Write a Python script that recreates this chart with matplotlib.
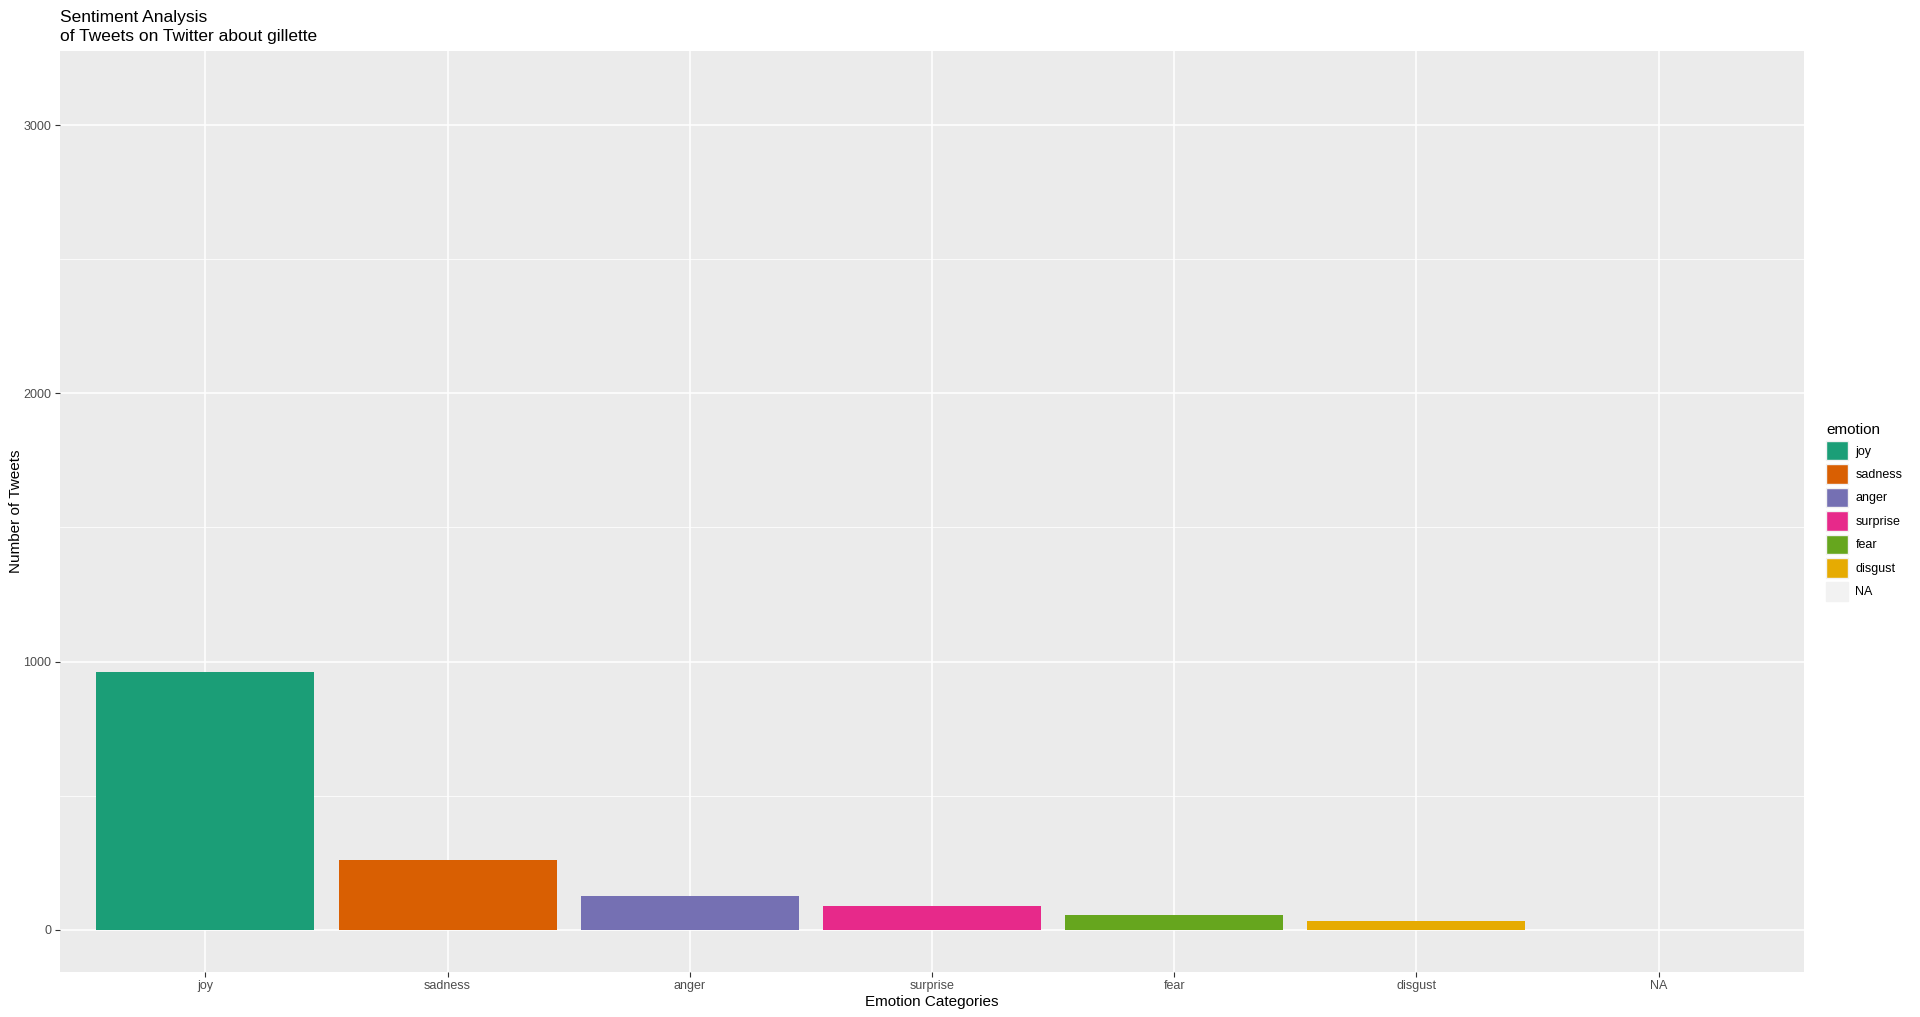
import matplotlib
matplotlib.use("Agg")
import matplotlib.pyplot as plt
from matplotlib.patches import Patch
from matplotlib.ticker import MultipleLocator

plt.rcParams['font.family'] = ['Liberation Sans', 'DejaVu Sans']

categories = ["joy", "sadness", "anger", "surprise", "fear", "disgust", "NA"]
counts = [963, 259, 125, 88, 54, 32, 3120]
colors = ["#1B9E77", "#D95F02", "#7570B3", "#E7298A", "#66A61E", "#E6AB02", "none"]

W, H = 1920, 1017
fig = plt.figure(figsize=(W / 100, H / 100), dpi=100)
ax = fig.add_axes([60 / W, 1 - 971.7 / H, (1804 - 60) / W, (971.7 - 51) / H])
ax.set_facecolor("#EBEBEB")
for s in ax.spines.values():
    s.set_visible(False)

x = list(range(1, len(categories) + 1))
bars = ax.bar(x, counts, width=0.9, color=colors, edgecolor="none", zorder=3)

ymax = max(counts)
ax.set_ylim(-0.05 * ymax, 1.05 * ymax)
ax.set_xlim(0.4, len(categories) + 0.6)
ax.set_xticks(x)
ax.set_xticklabels(categories)
ax.yaxis.set_major_locator(MultipleLocator(1000))
ax.yaxis.set_minor_locator(MultipleLocator(500))
ax.grid(which="major", color="white", linewidth=1.1, zorder=1)
ax.grid(which="minor", axis="y", color="white", linewidth=0.55, zorder=1)
ax.tick_params(axis="both", which="major", length=3.8, width=0.8, color="#333333",
               labelsize=9, labelcolor="#4D4D4D", pad=2.5)
ax.tick_params(axis="both", which="minor", length=0)
ax.set_axisbelow(True)

ax.set_xlabel("Emotion Categories", fontsize=11, color="black", labelpad=2)
ax.set_ylabel("Number of Tweets", fontsize=11, color="black", labelpad=0)

fig.text(60 / W, 1 - 10 / H, "Sentiment Analysis\nof Tweets on Twitter about gillette",
         fontsize=12.5, va="top", ha="left", linespacing=1.3)

handles = []
for c, lab in zip(colors, categories):
    fc = "#F2F2F2" if c == "none" else c
    handles.append(Patch(facecolor=fc, edgecolor="#F2F2F2", linewidth=1, label=lab))
leg = fig.legend(handles=handles, loc="upper left",
                 bbox_to_anchor=(1826 / W, 1 - 423 / H),
                 frameon=False, fontsize=9, title="emotion", title_fontsize=11,
                 handlelength=1.75, handleheight=2.05, labelspacing=0.3,
                 handletextpad=0.6, borderpad=0, borderaxespad=0,
                 alignment="left")

fig.savefig("out.png", dpi=100)
